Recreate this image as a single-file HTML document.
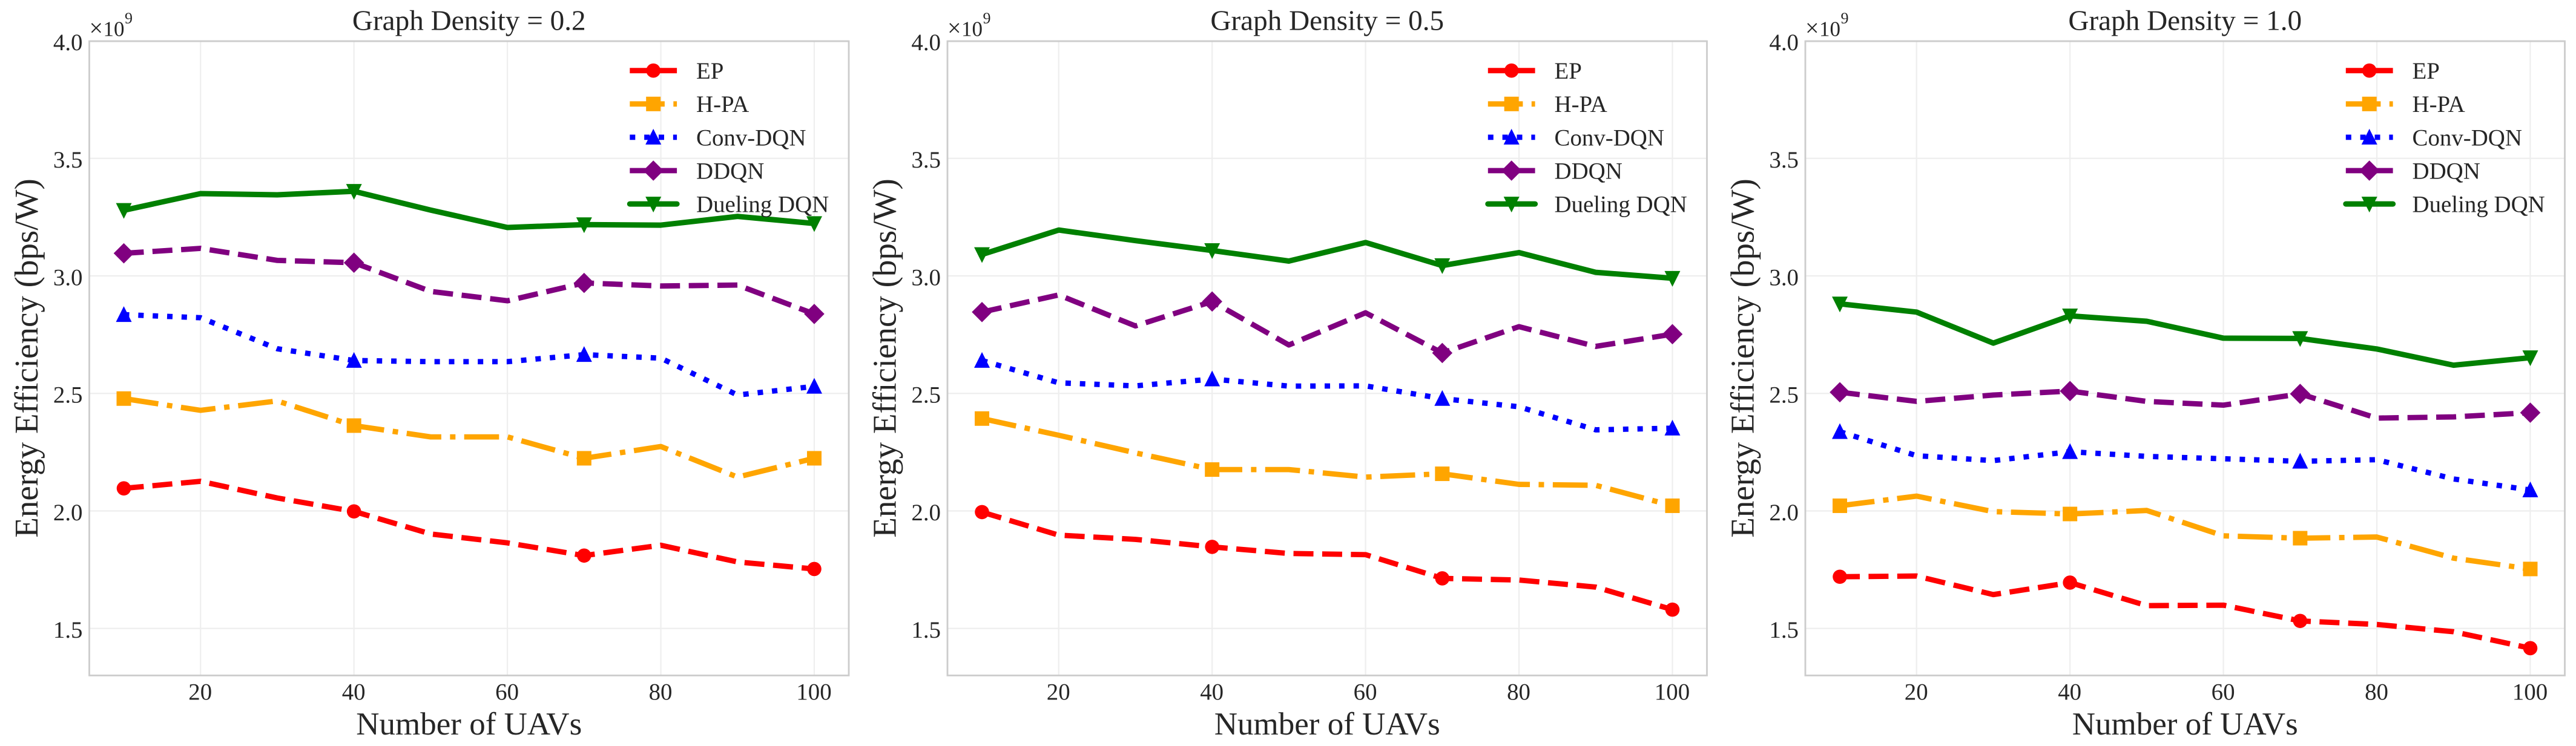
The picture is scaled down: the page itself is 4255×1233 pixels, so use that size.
<!DOCTYPE html>
<html lang="en">
<head>
<meta charset="utf-8">
<title>Energy Efficiency vs Number of UAVs</title>
<style>
  html, body { margin: 0; padding: 0; background: #ffffff; }
  body { width: 4255px; height: 1233px; overflow: hidden; }
  svg { display: block; }
  text { font-family: "Liberation Serif", "Times New Roman", serif; fill: #262626; text-rendering: geometricPrecision; }
</style>
</head>
<body>
<svg id="figure" xmlns="http://www.w3.org/2000/svg" width="4255" height="1233" viewBox="0 0 4255 1233"></svg>
<script>
// ---------- chart data ----------
const uavCounts = [10, 20, 30, 40, 50, 60, 70, 80, 90, 100];
const xTickValues = [20, 40, 60, 80, 100];
const xTickLabels = ['20', '40', '60', '80', '100'];
const yTickValues = [1.5, 2.0, 2.5, 3.0, 3.5, 4.0];
const yTickLabels = ['1.5', '2.0', '2.5', '3.0', '3.5', '4.0'];
const panelTitles = ['Graph Density = 0.2', 'Graph Density = 0.5', 'Graph Density = 1.0'];
const seriesNames = ['EP', 'H-PA', 'Conv-DQN', 'DDQN', 'Dueling DQN'];
const xAxisTitle = 'Number of UAVs';
const yAxisTitle = 'Energy Efficiency (bps/W)';

// Values are in units of 10^9 bps/W
const density02EP = [2.096, 2.126, 2.055, 1.998, 1.902, 1.864, 1.810, 1.854, 1.783, 1.753];
const density02HPA = [2.478, 2.428, 2.468, 2.363, 2.315, 2.315, 2.224, 2.274, 2.144, 2.224];
const density02Conv = [2.835, 2.822, 2.690, 2.640, 2.635, 2.635, 2.665, 2.650, 2.493, 2.530];
const density02DDQN = [3.096, 3.117, 3.066, 3.056, 2.934, 2.894, 2.970, 2.957, 2.961, 2.838];
const density02Dueling = [3.279, 3.350, 3.345, 3.360, 3.280, 3.206, 3.218, 3.216, 3.253, 3.223];

const density05EP = [1.995, 1.897, 1.879, 1.847, 1.819, 1.814, 1.713, 1.706, 1.676, 1.580];
const density05HPA = [2.393, 2.322, 2.247, 2.176, 2.176, 2.144, 2.158, 2.113, 2.109, 2.022];
const density05Conv = [2.640, 2.545, 2.532, 2.561, 2.531, 2.532, 2.478, 2.443, 2.345, 2.352];
const density05DDQN = [2.846, 2.919, 2.787, 2.891, 2.706, 2.843, 2.672, 2.784, 2.700, 2.752];
const density05Dueling = [3.091, 3.195, 3.150, 3.108, 3.063, 3.142, 3.044, 3.099, 3.015, 2.990];

const density10EP = [1.720, 1.723, 1.644, 1.695, 1.597, 1.599, 1.532, 1.517, 1.486, 1.416];
const density10HPA = [2.022, 2.063, 1.997, 1.987, 2.002, 1.894, 1.884, 1.889, 1.799, 1.753];
const density10Conv = [2.337, 2.235, 2.214, 2.252, 2.232, 2.222, 2.211, 2.218, 2.136, 2.089];
const density10DDQN = [2.505, 2.466, 2.493, 2.510, 2.466, 2.450, 2.498, 2.395, 2.400, 2.418];
const density10Dueling = [2.881, 2.846, 2.714, 2.830, 2.807, 2.735, 2.734, 2.689, 2.620, 2.652];

const panelSeries = [
  [density02EP, density02HPA, density02Conv, density02DDQN, density02Dueling],
  [density05EP, density05HPA, density05Conv, density05DDQN, density05Dueling],
  [density10EP, density10HPA, density10Conv, density10DDQN, density10Dueling]
];

// ---------- layout and styling ----------
const svg = document.getElementById('figure');
const NS = 'http://www.w3.org/2000/svg';
const panelLefts = [147.5, 1565, 2982];
const plotWidth = 1254.5;
const plotTop = 67.5;
const plotBottom = 1116.4;
const xMin = 5.5, xMax = 104.5, yMin = 1.3, yMax = 4.0;
const markerEvery = 3;

const lineStyles = [
  { color: '#ff0000', width: 8.8, dash: '33 14.4', cap: 'butt', marker: 'circle' },
  { color: '#ffa500', width: 8.8, dash: '57.6 14.4 9 14.4', cap: 'butt', marker: 'square' },
  { color: '#0000ff', width: 8.8, dash: '9 14.85', cap: 'butt', marker: 'triangle-up' },
  { color: '#800080', width: 8.8, dash: '33 14.4', cap: 'butt', marker: 'diamond' },
  { color: '#008000', width: 9, dash: 'none', cap: 'round', marker: 'triangle-down' }
];

function make(tag, attrs, parent) {
  const el = document.createElementNS(NS, tag);
  for (const k in attrs) el.setAttribute(k, attrs[k]);
  parent.appendChild(el);
  return el;
}

function xScale(left, v) {
  return left + (v - xMin) / (xMax - xMin) * plotWidth;
}

function yScale(v) {
  return plotTop + (yMax - v) / (yMax - yMin) * (plotBottom - plotTop);
}

function drawMarker(kind, cx, cy, color, parent) {
  if (kind === 'circle') {
    return make('circle', { cx: cx, cy: cy, r: 11.8, fill: color }, parent);
  }
  if (kind === 'square') {
    return make('rect', { x: cx - 12, y: cy - 12, width: 24, height: 24, fill: color }, parent);
  }
  let pts;
  if (kind === 'triangle-up') {
    pts = [[cx, cy - 14], [cx + 13, cy + 12], [cx - 13, cy + 12]];
  } else if (kind === 'triangle-down') {
    pts = [[cx, cy + 14], [cx + 13, cy - 12], [cx - 13, cy - 12]];
  } else {
    pts = [[cx, cy - 16.8], [cx + 16.8, cy], [cx, cy + 16.8], [cx - 16.8, cy]];
  }
  return make('polygon', { points: pts.map(p => p.join(',')).join(' '), fill: color }, parent);
}

panelLefts.forEach(function (left, p) {
  const panel = make('g', {}, svg);
  
  

  // Grid
  const grid = make('g', { stroke: '#eeeeee', 'stroke-width': 2.2 }, panel);
  
  
  xTickValues.forEach(function (t) {
    const gl = make('line', { x1: xScale(left, t), x2: xScale(left, t), y1: plotTop, y2: plotBottom }, grid);
    
    
  });
  yTickValues.forEach(function (t) {
    const gl = make('line', { x1: left, x2: left + plotWidth, y1: yScale(t), y2: yScale(t) }, grid);
    
    
  });

  // Series
  panelSeries[p].forEach(function (values, s) {
    const st = lineStyles[s];
    const group = make('g', {}, panel);
    
    
    const pts = values.map(function (v, i) {
      return xScale(left, uavCounts[i]) + ',' + yScale(v);
    }).join(' ');
    const line = make('polyline', {
      points: pts, fill: 'none', stroke: st.color, 'stroke-width': st.width,
      'stroke-dasharray': st.dash, 'stroke-linecap': st.cap, 'stroke-linejoin': 'round'
    }, group);
    
    
    values.forEach(function (v, i) {
      if (i % markerEvery !== 0) return;
      const m = drawMarker(st.marker, xScale(left, uavCounts[i]), yScale(v), st.color, group);
      
      
    });
  });

  // Frame
  const frame = make('rect', {
    x: left, y: plotTop + 0.6, width: plotWidth, height: plotBottom - plotTop - 0.6,
    fill: 'none', stroke: '#cccccc', 'stroke-width': 2.8
  }, panel);
  
  

  // Tick labels
  xTickValues.forEach(function (t, i) {
    const lb = make('text', { x: xScale(left, t) - 0.5, y: 1156.5, 'text-anchor': 'middle', 'font-size': 38.9 }, panel);
    lb.textContent = xTickLabels[i];
    
    
  });
  yTickValues.forEach(function (t, i) {
    const lb = make('text', { x: left - 11, y: yScale(t) + 15.4, 'text-anchor': 'end', 'font-size': 38.9 }, panel);
    lb.textContent = yTickLabels[i];
    
    
  });

  // Offset text
  const times = make('text', { x: left, y: 59.3, 'font-size': 40 }, panel);
  times.textContent = '×';
  
  
  const off = make('text', { x: left + 23, y: 59.3, 'font-size': 35 }, panel);
  off.textContent = '10';
  
  
  const exp = make('text', { x: left + 58.5, y: 38.5, 'font-size': 26 }, panel);
  exp.textContent = '9';
  
  

  // Titles
  const cx = left + plotWidth / 2;
  const title = make('text', { x: cx, y: 49.5, 'text-anchor': 'middle', 'font-size': 47.2 }, panel);
  title.textContent = panelTitles[p];
  
  
  const xt = make('text', { x: cx, y: 1214, 'text-anchor': 'middle', 'font-size': 53 }, panel);
  xt.textContent = xAxisTitle;
  
  
  const yt = make('text', {
    x: 0, y: 0, 'text-anchor': 'middle', 'font-size': 55,
    transform: 'translate(' + (left - 85.5) + ',' + ((plotTop + plotBottom) / 2) + ') rotate(-90)'
  }, panel);
  yt.textContent = yAxisTitle;
  
  

  // Legend
  const legend = make('g', {}, panel);
  
  
  const handleLeft = left + 892.8;
  const handleLen = 77.8;
  seriesNames.forEach(function (name, s) {
    const st = lineStyles[s];
    const rowY = 116.7 + s * 55.1;
    const entry = make('g', {}, legend);
    
    
    const h = make('line', {
      x1: handleLeft, x2: handleLeft + handleLen, y1: rowY, y2: rowY,
      stroke: st.color, 'stroke-width': st.width, 'stroke-dasharray': st.dash, 'stroke-linecap': st.cap
    }, entry);
    
    
    const mk = drawMarker(st.marker, handleLeft + handleLen / 2, rowY, st.color, entry);
    
    
    const tx = make('text', { x: handleLeft + 109.7, y: rowY + 13.4, 'font-size': 38.9 }, entry);
    tx.textContent = name;
    
    
  });
});
</script>
</body>
</html>
